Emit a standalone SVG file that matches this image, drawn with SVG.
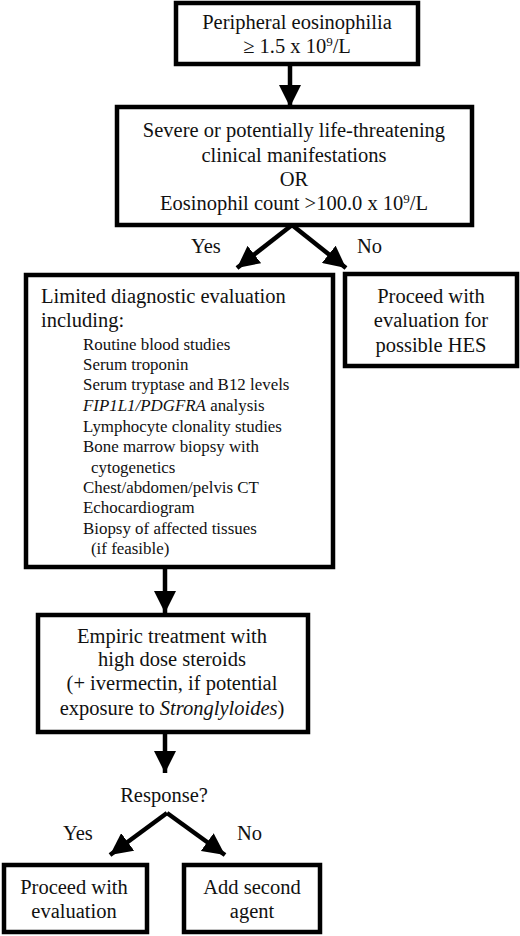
<svg xmlns="http://www.w3.org/2000/svg" width="520" height="936" viewBox="0 0 520 936">
<defs>
<marker id="ah" markerUnits="userSpaceOnUse" markerWidth="22" markerHeight="22" refX="20" refY="10" orient="auto" viewBox="0 0 20 20">
<path d="M0,0 L20,10 L0,20 z" fill="#000"/>
</marker>
<style>
.box{fill:#fff;stroke:#000;stroke-width:4.5}
.t{font-family:"Liberation Serif","Times New Roman",serif;font-size:20.5px;fill:#111}
.s{font-family:"Liberation Serif","Times New Roman",serif;font-size:16.9px;fill:#111}
.c{text-anchor:middle}
.ln{stroke:#000;stroke-width:4.5;fill:none;marker-end:url(#ah)}
</style>
</defs>
<rect width="520" height="936" fill="#fff"/>
<g id="connectors">
<line class="ln" x1="290" y1="64" x2="290" y2="107"/>
<line class="ln" x1="292" y1="225" x2="237" y2="268"/>
<line class="ln" x1="292" y1="225" x2="346" y2="268"/>
<line class="ln" x1="165" y1="567" x2="165" y2="613"/>
<line class="ln" x1="165" y1="732" x2="165" y2="773"/>
<line class="ln" x1="167" y1="813" x2="110" y2="855"/>
<line class="ln" x1="167" y1="813" x2="225" y2="855"/>
<text class="t" x="191" y="253">Yes</text>
<text class="t" x="357" y="253">No</text>
<text class="t" x="63" y="840">Yes</text>
<text class="t" x="237" y="840">No</text>
</g>
<g id="n1">
<rect class="box" x="176" y="3" width="242" height="61"/>
<text class="t c" x="297" y="29">Peripheral eosinophilia</text>
<text class="t c" x="297" y="53">≥ 1.5 x 10<tspan font-size="13" dy="-7">9</tspan><tspan dy="7">/L</tspan></text>
</g>
<g id="n2">
<rect class="box" x="117" y="107" width="355" height="118"/>
<text class="t c" x="294" y="137">Severe or potentially life-threatening</text>
<text class="t c" x="294" y="162">clinical manifestations</text>
<text class="t c" x="294" y="186">OR</text>
<text class="t c" x="294" y="210">Eosinophil count &gt;100.0 x 10<tspan font-size="13" dy="-7">9</tspan><tspan dy="7">/L</tspan></text>
</g>
<g id="n3">
<rect class="box" x="26" y="275" width="307" height="292"/>
<text class="t" x="41" y="303">Limited diagnostic evaluation</text>
<text class="t" x="41" y="327">including:</text>
<text class="s" x="83" y="350">Routine blood studies</text>
<text class="s" x="83" y="370">Serum troponin</text>
<text class="s" x="83" y="390">Serum tryptase and B12 levels</text>
<text class="s" x="83" y="411"><tspan font-style="italic">FIP1L1/PDGFRA</tspan> analysis</text>
<text class="s" x="83" y="432">Lymphocyte clonality studies</text>
<text class="s" x="83" y="452">Bone marrow biopsy with</text>
<text class="s" x="91" y="473">cytogenetics</text>
<text class="s" x="83" y="493">Chest/abdomen/pelvis CT</text>
<text class="s" x="83" y="513">Echocardiogram</text>
<text class="s" x="83" y="534">Biopsy of affected tissues</text>
<text class="s" x="91" y="554">(if feasible)</text>
</g>
<g id="n4">
<rect class="box" x="345" y="274" width="172" height="92"/>
<text class="t c" x="431" y="303">Proceed with</text>
<text class="t c" x="431" y="327">evaluation for</text>
<text class="t c" x="431" y="352">possible HES</text>
</g>
<g id="n5">
<rect class="box" x="38" y="615" width="270" height="117"/>
<text class="t c" x="172" y="643">Empiric treatment with</text>
<text class="t c" x="172" y="666">high dose steroids</text>
<text class="t c" x="172" y="690">(+ ivermectin, if potential</text>
<text class="t c" x="172" y="715">exposure to <tspan font-style="italic">Stronglyloides</tspan>)</text>
</g>
<g id="n6">
<text class="t c" x="164" y="802">Response?</text>
</g>
<g id="n7">
<rect class="box" x="4" y="865" width="143" height="67"/>
<text class="t c" x="74" y="894">Proceed with</text>
<text class="t c" x="74" y="918">evaluation</text>
</g>
<g id="n8">
<rect class="box" x="184" y="865" width="136" height="67"/>
<text class="t c" x="252" y="894">Add second</text>
<text class="t c" x="252" y="918">agent</text>
</g>
</svg>
